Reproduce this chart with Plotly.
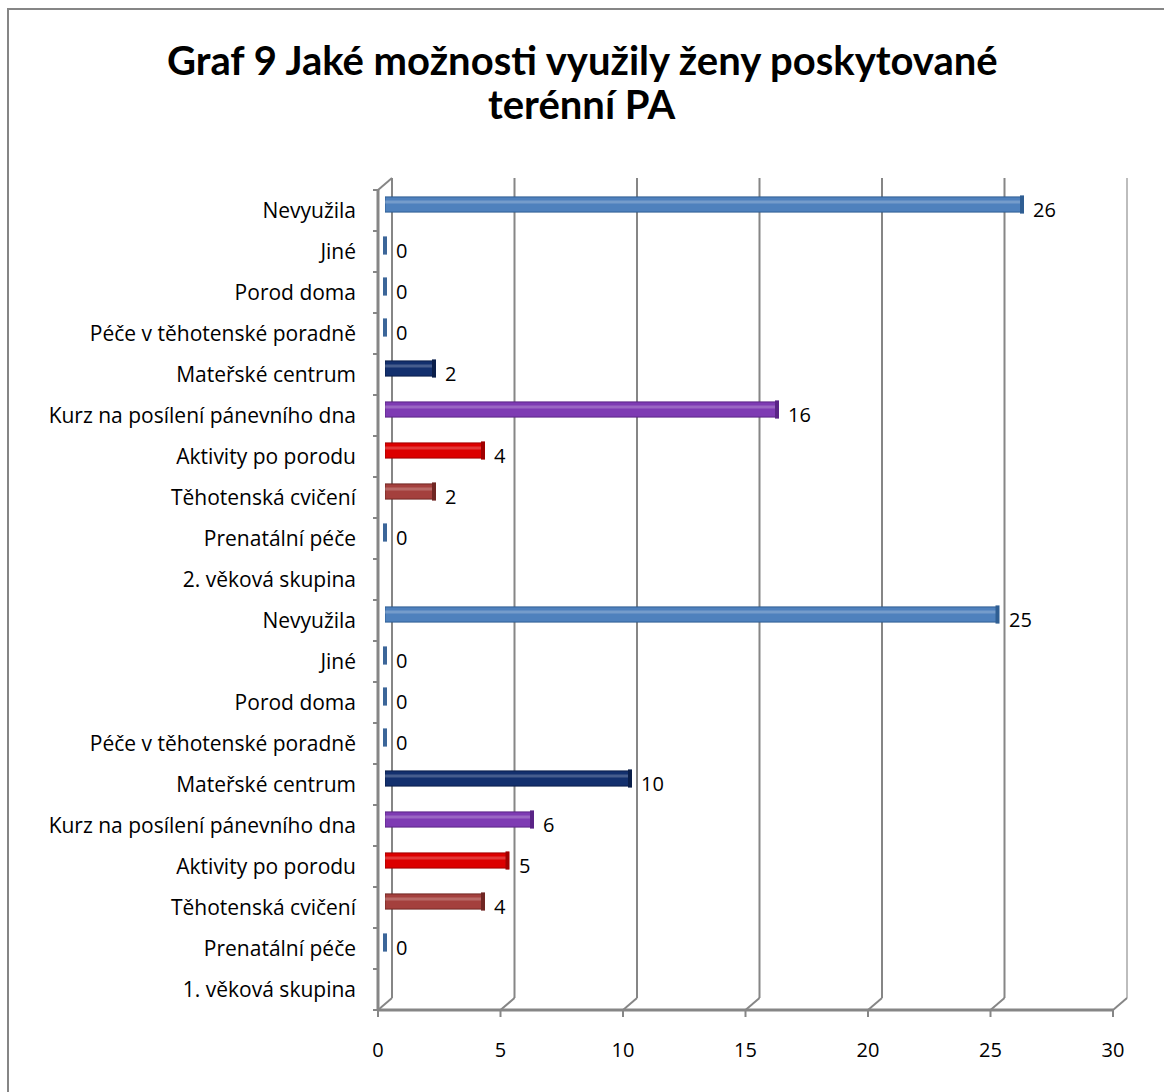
import plotly.graph_objects as go

# ---------------- data (bottom to top) ----------------
categories = [
    "1. věková skupina", "Prenatální péče", "Těhotenská cvičení", "Aktivity po porodu",
    "Kurz na posílení pánevního dna", "Mateřské centrum", "Péče v těhotenské poradně",
    "Porod doma", "Jiné", "Nevyužila",
    "2. věková skupina", "Prenatální péče", "Těhotenská cvičení", "Aktivity po porodu",
    "Kurz na posílení pánevního dna", "Mateřské centrum", "Péče v těhotenské poradně",
    "Porod doma", "Jiné", "Nevyužila",
]
values = [None, 0, 4, 5, 6, 10, 0, 0, 0, 25,
          None, 0, 2, 4, 16, 2, 0, 0, 0, 26]
x_ticks = [0, 5, 10, 15, 20, 25, 30]
title_lines = ["Graf 9 Jaké možnosti využily ženy poskytované", "terénní PA"]

# ---------------- styles ----------------
bar_colors = {
    "Nevyužila": "#4F81BD",
    "Mateřské centrum": "#13306E",
    "Kurz na posílení pánevního dna": "#7E3BB3",
    "Aktivity po porodu": "#DC0000",
    "Těhotenská cvičení": "#A4403D",
}
cap_colors = {
    "Nevyužila": "#2F5E93",
    "Mateřské centrum": "#0A1E4A",
    "Kurz na posílení pánevního dna": "#5A2486",
    "Aktivity po porodu": "#A00000",
    "Těhotenská cvičení": "#702623",
}
zero_color = "#3C6699"
GRID = "#868686"
FONT = "Open Sans"

W, H = 1164, 1092
L, R, T, B = 385, 44, 184, 88
PW, PH = W - L - R, H - T - B
XMAX = 30
NCAT = len(categories)
PYC = PH / NCAT           # px per category
DX = 7 / PW               # depth offset (paper x)
DY = 6 / PH               # depth offset (paper y)


def xp(v):
    """data x value -> paper x"""
    return v / XMAX


def px2paper_x(px):
    return (px - L) / PW


def px2paper_y(py):
    return (H - B - py) / PH


idx = list(range(NCAT))
fig = go.Figure()

bar_y = [i for i, v in zip(idx, values) if v is not None and v > 0]
bar_x = [v for v in values if v is not None and v > 0]
bar_c = [bar_colors.get(categories[i], zero_color) for i in bar_y]
bar_lc = [cap_colors.get(categories[i], zero_color) for i in bar_y]

fig.add_trace(go.Bar(
    x=bar_x, y=bar_y, orientation="h", width=0.37,
    marker=dict(color=bar_c, line=dict(color=bar_lc, width=1)),
    hoverinfo="skip", showlegend=False,
))
# highlight stripe for cylinder look
fig.add_trace(go.Bar(
    x=bar_x, y=[y + 0.06 for y in bar_y], orientation="h", width=0.07,
    marker=dict(color="rgba(255,255,255,0.22)", line=dict(width=0)),
    hoverinfo="skip", showlegend=False,
))
fig.update_layout(barmode="overlay")

# end caps (and zero-length cylinders)
cap_y = [i for i, v in zip(idx, values) if v is not None]
cap_x = [values[i] for i in cap_y]
cap_c = [cap_colors.get(categories[i], zero_color) if values[i] > 0 else zero_color for i in cap_y]
fig.add_trace(go.Scatter(
    x=cap_x, y=cap_y, mode="markers",
    marker=dict(symbol="line-ns", size=13, line=dict(width=4, color=cap_c)),
    hoverinfo="skip", showlegend=False, cliponaxis=False,
))

shapes = []
for t in x_ticks:
    col = "#BDBDBD" if t == XMAX else GRID
    # back gridlines
    shapes.append(dict(type="line", xref="paper", yref="paper",
                       x0=xp(t) + DX, x1=xp(t) + DX, y0=DY, y1=1 + DY,
                       line=dict(color=col, width=2), layer="below"))
    # floor diagonals
    shapes.append(dict(type="line", xref="paper", yref="paper",
                       x0=xp(t) - DX, x1=xp(t) + DX, y0=-DY, y1=DY,
                       line=dict(color=GRID, width=2), layer="below"))
    # ticks under front axis
    shapes.append(dict(type="line", xref="paper", yref="paper",
                       x0=xp(t) - DX, x1=xp(t) - DX, y0=-DY, y1=-DY - 7 / PH,
                       line=dict(color=GRID, width=2)))
# front x axis line
shapes.append(dict(type="line", xref="paper", yref="paper",
                   x0=-DX, x1=1 - DX, y0=-DY, y1=-DY,
                   line=dict(color=GRID, width=3)))
# front left wall line
shapes.append(dict(type="line", xref="paper", yref="paper",
                   x0=-DX, x1=-DX, y0=-DY, y1=1 - DY,
                   line=dict(color=GRID, width=3)))
# top-left diagonal
shapes.append(dict(type="line", xref="paper", yref="paper",
                   x0=-DX, x1=DX, y0=1 - DY, y1=1 + DY,
                   line=dict(color=GRID, width=2)))
# category ticks on left axis
for k in range(NCAT + 1):
    yk = k / NCAT - DY
    shapes.append(dict(type="line", xref="paper", yref="paper",
                       x0=-DX - 5 / PW, x1=-DX, y0=yk, y1=yk,
                       line=dict(color=GRID, width=2)))
# outer chart border
shapes.append(dict(type="rect", xref="paper", yref="paper",
                   x0=px2paper_x(8), x1=px2paper_x(1180),
                   y0=px2paper_y(1110), y1=px2paper_y(9),
                   line=dict(color="#868686", width=2), fillcolor="rgba(0,0,0,0)"))

annotations = []
for i, v in zip(idx, values):
    if v is None:
        continue
    annotations.append(dict(x=v, y=i, xref="x", yref="y", text=str(v),
                            showarrow=False, xanchor="left", yanchor="middle",
                            xshift=9, yshift=-5,
                            font=dict(family=FONT, size=20, color="#000000")))

# title lines (centred on the whole chart)
for line, cy in zip(title_lines, [60, 104]):
    annotations.append(dict(x=px2paper_x(W / 2), y=px2paper_y(cy), xref="paper", yref="paper",
                            text=f"<b>{line}</b>", showarrow=False,
                            xanchor="center", yanchor="middle",
                            font=dict(family="Lato", size=40, color="#000000")))

fig.update_layout(
    width=W, height=H,
    margin=dict(l=L, r=R, t=T, b=B, pad=0),
    paper_bgcolor="white", plot_bgcolor="white",
    shapes=shapes, annotations=annotations,
    xaxis=dict(range=[0, XMAX], tickvals=x_ticks, showgrid=False, zeroline=False,
               showline=False, ticks="", ticklabelshift=-7, ticklabelstandoff=32,
               tickfont=dict(family=FONT, size=20, color="#000000"), fixedrange=True),
    yaxis=dict(range=[-0.5, NCAT - 0.5], tickvals=idx, ticktext=categories,
               showgrid=False, zeroline=False, showline=False, ticks="",
               ticklabelshift=6, ticklabelstandoff=28,
               tickfont=dict(family=FONT, size=21, color="#000000"), fixedrange=True),
    showlegend=False,
)

fig.write_html("out.html")
